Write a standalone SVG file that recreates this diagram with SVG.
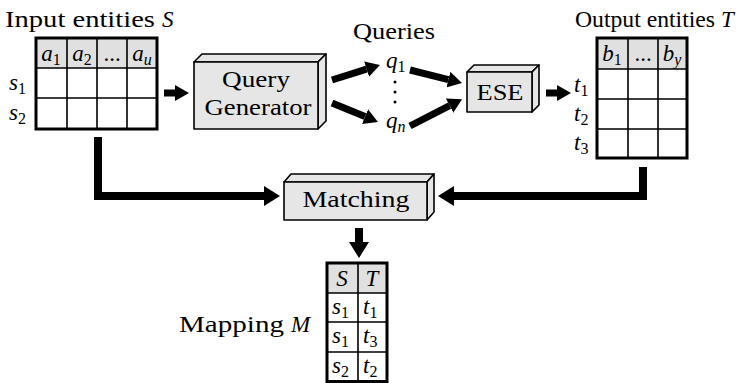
<svg xmlns="http://www.w3.org/2000/svg" width="742" height="383" viewBox="0 0 742 383">
<style>
text{font-family:'Liberation Serif','DejaVu Serif',serif;font-size:23px;fill:#000}
.m{font-style:italic}
.sub{font-size:16px;font-style:normal}
.sub.m{font-style:italic}
.c{text-anchor:middle}
.box{fill:#e6e6e6;stroke:#000;stroke-width:1.6;stroke-linejoin:round}
.hdr{fill:#e0e0e0}
.grid{fill:none;stroke:#000;stroke-width:1.6}
.outer{fill:none;stroke:#000;stroke-width:3}
.arr{fill:none;stroke:#000;stroke-width:7;stroke-linejoin:miter}
.big{fill:none;stroke:#000;stroke-width:8;stroke-linejoin:miter}
</style>
<defs>
<marker id="ah" markerUnits="userSpaceOnUse" markerWidth="14" markerHeight="16" refX="0" refY="8" orient="auto"><path d="M0,0 L14,8 L0,16 z" fill="#000"/></marker>
<marker id="ahb" markerUnits="userSpaceOnUse" markerWidth="16" markerHeight="20" refX="0" refY="10" orient="auto"><path d="M0,0 L16,10 L0,20 z" fill="#000"/></marker>
</defs>

<g id="input">
<text x="5" y="27" textLength="150" lengthAdjust="spacingAndGlyphs">Input entities</text>
<text class="m" x="162" y="27">S</text>
<rect class="hdr" x="36" y="38" width="121" height="30"/>
<path class="grid" d="M36,68H157M36,98H157M67,38V129M97,38V129M127,38V129"/>
<rect class="outer" x="36" y="38" width="121" height="91"/>
<text class="m c" x="51" y="61">a<tspan class="sub" dy="4">1</tspan></text>
<text class="m c" x="82" y="61">a<tspan class="sub" dy="4">2</tspan></text>
<text class="c" x="112" y="61">...</text>
<text class="m c" x="142" y="61">a<tspan class="sub m" dy="4">u</tspan></text>
<text class="m" x="9" y="90">s<tspan class="sub" dy="4">1</tspan></text>
<text class="m" x="9" y="120">s<tspan class="sub" dy="4">2</tspan></text>
</g>

<g id="query-generator">
<path class="box" d="M194,62L202,54H326L318,62Z"/>
<path class="box" d="M318,62L326,54V121L318,129Z"/>
<rect class="box" x="194" y="62" width="124" height="67"/>
<text class="c" x="256" y="87" textLength="68" lengthAdjust="spacingAndGlyphs">Query</text>
<text class="c" x="258" y="115" textLength="107" lengthAdjust="spacingAndGlyphs">Generator</text>
</g>

<g id="queries">
<text x="353" y="39" textLength="82" lengthAdjust="spacingAndGlyphs">Queries</text>
<text class="m" x="386" y="68">q<tspan class="sub" dy="4">1</tspan></text>
<circle cx="395" cy="82" r="1.5"/>
<circle cx="395" cy="92" r="1.5"/>
<circle cx="395" cy="102" r="1.5"/>
<text class="m" x="386" y="128">q<tspan class="sub m" dy="4">n</tspan></text>
</g>

<g id="ese">
<path class="box" d="M467,72L474,65H539L532,72Z"/>
<path class="box" d="M532,72L539,65V105L532,112Z"/>
<rect class="box" x="467" y="72" width="65" height="40"/>
<text class="c" x="500" y="100" textLength="47" lengthAdjust="spacingAndGlyphs">ESE</text>
</g>

<g id="output">
<text x="575" y="27" textLength="140" lengthAdjust="spacingAndGlyphs">Output entities</text>
<text class="m" x="721" y="27">T</text>
<rect class="hdr" x="597" y="38" width="90" height="31"/>
<path class="grid" d="M597,69H687M597,99H687M597,129H687M628,38V158M658,38V158"/>
<rect class="outer" x="597" y="38" width="90" height="120"/>
<text class="m c" x="612" y="61">b<tspan class="sub" dy="4">1</tspan></text>
<text class="c" x="643" y="61">...</text>
<text class="m c" x="672" y="61">b<tspan class="sub m" dy="4">y</tspan></text>
<text class="m" x="574" y="92">t<tspan class="sub" dy="4">1</tspan></text>
<text class="m" x="574" y="121">t<tspan class="sub" dy="4">2</tspan></text>
<text class="m" x="574" y="150">t<tspan class="sub" dy="4">3</tspan></text>
</g>

<g id="matching">
<path class="box" d="M284,182L291,174H434L427,182Z"/>
<path class="box" d="M427,182L434,174V212L427,220Z"/>
<rect class="box" x="284" y="182" width="143" height="38"/>
<text class="c" x="356" y="207" textLength="107" lengthAdjust="spacingAndGlyphs">Matching</text>
</g>

<g id="mapping">
<text x="179" y="332" textLength="105" lengthAdjust="spacingAndGlyphs">Mapping</text>
<text class="m" x="291" y="332">M</text>
<rect class="hdr" x="327" y="263" width="60" height="30"/>
<path class="grid" d="M327,293H387M327,322H387M327,352H387M358,263V382"/>
<rect class="outer" x="327" y="263" width="60" height="118.5"/>
<text class="m c" x="342" y="286">S</text>
<text class="m c" x="372" y="286">T</text>
<text class="m" x="332" y="314">s<tspan class="sub" dy="4">1</tspan></text>
<text class="m" x="363" y="314">t<tspan class="sub" dy="4">1</tspan></text>
<text class="m" x="332" y="343">s<tspan class="sub" dy="4">1</tspan></text>
<text class="m" x="363" y="343">t<tspan class="sub" dy="4">3</tspan></text>
<text class="m" x="332" y="373">s<tspan class="sub" dy="4">2</tspan></text>
<text class="m" x="363" y="373">t<tspan class="sub" dy="4">2</tspan></text>
</g>

<g id="connectors">
<path class="arr" d="M164,93H175" marker-end="url(#ah)"/>
<path class="arr" d="M332,80L366.6,69.2" marker-end="url(#ah)"/>
<path class="arr" d="M332,103L365,116.6" marker-end="url(#ah)"/>
<path class="arr" d="M410,70L448.4,79.6" marker-end="url(#ah)"/>
<path class="arr" d="M410,126L449.6,105.7" marker-end="url(#ah)"/>
<path class="arr" d="M546,93H557" marker-end="url(#ah)"/>
<path class="big" d="M98,137V196H264" marker-end="url(#ahb)"/>
<path class="big" d="M643,167V196H454" marker-end="url(#ahb)"/>
<path class="big" d="M359,228V242" marker-end="url(#ahb)"/>
</g>
</svg>
